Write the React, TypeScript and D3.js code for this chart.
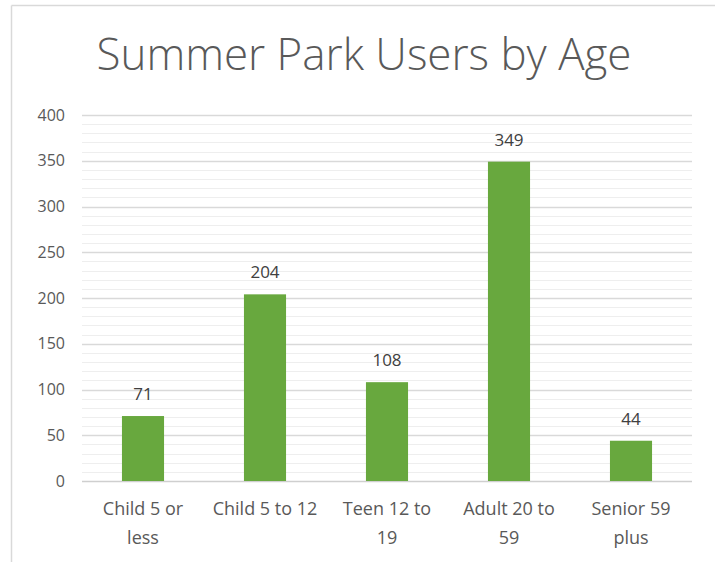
import React from "react";
import * as d3 from "d3";

const title = "Summer Park Users by Age";
const categories = ["Child 5 or\nless", "Child 5 to 12", "Teen 12 to\n19", "Adult 20 to\n59", "Senior 59\nplus"];
const values = [71, 204, 108, 349, 44];
const majorTicks = [0, 50, 100, 150, 200, 250, 300, 350, 400];
const minorTicks = d3.range(0, 401, 10);

const W = 715;
const H = 562;
const FONT = "'Open Sans', 'Liberation Sans', sans-serif";

export default function App() {
  const x = d3.scaleBand<string>().domain(categories).range([82, 692]).paddingInner(0.655).paddingOuter(0.3275);
  const y = d3.scaleLinear().domain([0, 400]).range([481, 115]);

  return (
    <svg width={W} height={H} style={{ position: "absolute", left: 0, top: 0, background: "#fff" }}>
      <rect x={0} y={0} width={W} height={H} fill="#fff" />
      <line x1={11.5} x2={W} y1={5.5} y2={5.5} stroke="#d9d9d9" strokeWidth={1.5} />
      <line x1={11.5} x2={11.5} y1={5.5} y2={H} stroke="#d9d9d9" strokeWidth={1.5} />
      <text x={364} y={70} textAnchor="middle" fontFamily={FONT} fontWeight={300} fontSize={44} fill="#595959" textLength={535} lengthAdjust="spacingAndGlyphs">
        {title}
      </text>
      {minorTicks.filter((t) => t % 50 !== 0).map((t) => (
        <line key={"m" + t} x1={82} x2={692} y1={Math.round(y(t)) + 0.5} y2={Math.round(y(t)) + 0.5} stroke="#eeeeee" strokeWidth={1} />
      ))}
      {majorTicks.map((t) => (
        <line key={"g" + t} x1={82} x2={692} y1={Math.round(y(t)) + 0.5} y2={Math.round(y(t)) + 0.5} stroke={t === 0 ? "#cfcfcf" : "#d9d9d9"} strokeWidth={1.5} />
      ))}
      {majorTicks.map((t) => (
        <text key={"t" + t} x={65} y={y(t) + 5.5} textAnchor="end" fontFamily={FONT} fontSize={16} fill="#595959">
          {t}
        </text>
      ))}
      {categories.map((c, i) => (
        <g key={c}>
          <rect x={x(c)!} y={y(values[i])} width={x.bandwidth()} height={y(0) - y(values[i])} fill="#68a83e" />
          <text x={x(c)! + x.bandwidth() / 2} y={y(values[i]) - 16} textAnchor="middle" fontFamily={FONT} fontSize={17} fill="#404040">
            {values[i]}
          </text>
          {c.split("\n").map((line, j) => (
            <text key={j} x={x(c)! + x.bandwidth() / 2} y={515 + j * 29} textAnchor="middle" fontFamily={FONT} fontSize={18} fill="#595959">
              {line}
            </text>
          ))}
        </g>
      ))}
    </svg>
  );
}
